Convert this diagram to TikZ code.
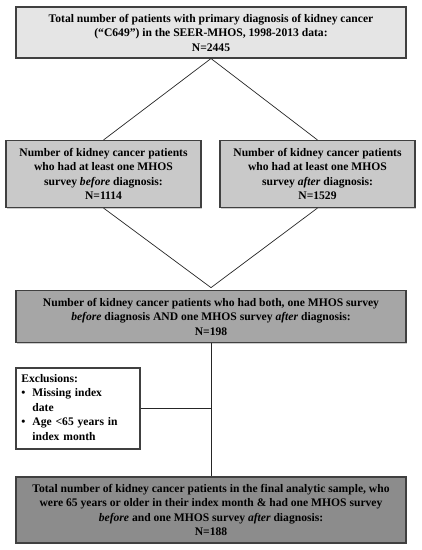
\documentclass[tikz,border=0pt]{standalone}
\usepackage{fontspec}
\setmainfont{Liberation Serif}
\usepackage{xcolor}
\definecolor{boxline}{rgb}{0.25,0.25,0.25}
\definecolor{greyA}{rgb}{0.90,0.90,0.90}
\definecolor{greyB}{rgb}{0.79,0.79,0.79}
\definecolor{greyC}{rgb}{0.65,0.65,0.65}
\definecolor{greyD}{rgb}{0.55,0.55,0.55}
\usepackage{tikz}
\usetikzlibrary{positioning, shadows}

\begin{document}
\begin{tikzpicture}[
	x=0.03cm, y=-0.03cm,
	box/.style={rectangle, draw=boxline, line width=0.9pt, align=center,
	            font=\fontsize{9.9}{12.4}\selectfont\bfseries, inner sep=2pt,
	            drop shadow={shadow xshift=0.9pt, shadow yshift=-0.9pt, fill=black!40}},
	wide/.style={box, minimum width=11.7cm},
	half/.style={box, minimum width=5.85cm, minimum height=2.01cm},
	excl/.style={box, fill=white, align=left, minimum width=3.72cm, minimum height=2.43cm,
	             text width=3.4cm},
	conn/.style={draw=black!85, line width=0.6pt}
	]
\useasboundingbox (0,0) rectangle (422,550);

\node[wide, fill=greyA, minimum height=1.53cm] (total) at (211,32.5)
	{Total number of patients with primary diagnosis of kidney cancer\\
	 (``C649'') in the SEER-MHOS, 1998-2013 data:\\ N=2445};

\node[half, fill=greyB] (before) at (103.5,174)
	{Number of kidney cancer patients\\ who had at least one MHOS\\
	 survey \textit{before} diagnosis:\\ N=1114};
\node[half, fill=greyB] (after) at (317.5,174)
	{Number of kidney cancer patients\\ who had at least one MHOS\\
	 survey \textit{after} diagnosis:\\ N=1529};
\draw[conn] (total.south) -- (before.north);
\draw[conn] (total.south) -- (after.north);

\node[wide, fill=greyC, minimum height=1.56cm] (both) at (211,316.5)
	{Number of kidney cancer patients who had both, one MHOS survey\\
	 \textit{before} diagnosis AND one MHOS survey \textit{after} diagnosis:\\ N=198};
\draw[conn] (before.south) -- ([yshift=2pt]both.north);
\draw[conn] (after.south) -- ([yshift=2pt]both.north);

\node[excl] (exclu) at (78,408.5)
	{\begin{tabular}{@{}l@{\hspace{6pt}}l@{}}
	 \multicolumn{2}{@{}l}{Exclusions:}\\
	 \textbullet & Missing index\\
	             & date\\
	 \textbullet & Age <65 years in\\
	             & index month
	 \end{tabular}};

\node[wide, fill=greyD, minimum height=1.98cm] (final) at (211,510)
	{Total number of kidney cancer patients in the final analytic sample, who\\
	 were 65 years or older in their index month \& had one MHOS survey\\
	 \textit{before} and one MHOS survey \textit{after} diagnosis:\\ N=188};
\draw[conn] (both.south) -- (final.north);
\coordinate (join) at (exclu.east -| both.south);
\draw[conn] (exclu.east) -- (join);
\end{tikzpicture}
\end{document}
